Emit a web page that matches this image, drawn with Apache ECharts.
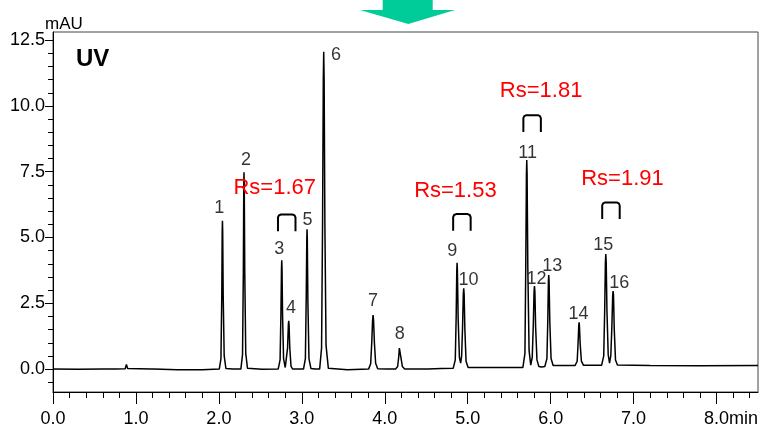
<!DOCTYPE html>
<html><head><meta charset="utf-8">
<script src="https://cdn.jsdelivr.net/npm/echarts@6/dist/echarts.min.js"></script>
<style>html,body{margin:0;padding:0;background:#fff}#c{width:767px;height:425px}</style>
</head><body><div id="c"></div>
<script>
// ---- data ----
const traceTime = [
0.00,0.30,0.60,0.72,0.74,0.76,0.87,0.885,0.90,0.92,1.18,1.195,1.21,1.50,1.80,
2.005,2.025,2.035,2.040,2.043,2.046,2.052,2.064,2.085,
2.17,
2.265,2.285,2.295,2.300,2.303,2.306,2.312,2.324,2.345,
2.52,
2.715,2.738,2.748,2.755,2.758,2.761,2.768,2.780,2.800,2.815,2.828,2.838,2.842,2.846,2.855,2.870,2.890,
2.95,
3.020,3.043,3.053,3.060,3.063,3.066,3.073,3.086,3.110,
3.16,
3.215,3.238,3.250,3.259,3.264,3.269,3.278,3.292,3.320,
3.55,
3.805,3.830,3.843,3.853,3.859,3.865,3.875,3.890,3.915,
4.02,
4.130,4.155,4.168,4.176,4.181,4.186,4.196,4.212,4.240,
4.36,4.49,4.50,4.52,4.68,
4.825,4.850,4.861,4.868,4.872,4.876,4.885,4.900,4.915,4.927,4.938,4.947,4.952,4.957,4.966,4.980,5.005,
5.20,5.45,
5.665,5.690,5.700,5.708,5.712,5.716,5.725,5.740,5.760,5.778,5.791,5.800,5.805,5.810,5.819,5.835,5.858,
5.89,
5.930,5.955,5.966,5.973,5.977,5.981,5.990,6.005,6.030,
6.15,
6.295,6.320,6.331,6.339,6.343,6.347,6.356,6.371,6.395,
6.50,
6.615,6.640,6.652,6.660,6.665,6.670,6.679,6.694,6.710,6.725,6.738,6.748,6.753,6.758,6.767,6.782,6.805,
7.20,7.80,8.50
];
const traceMAU = [
0.00,-0.01,0.00,0.00,0.05,0.00,0.01,0.18,0.02,0.00,0.00,0.07,0.00,-0.02,-0.02,
0.00,0.40,2.80,5.20,5.64,5.20,2.80,0.50,0.02,
0.00,
0.00,0.55,3.70,6.90,7.48,6.90,3.70,0.60,0.03,
-0.01,
0.00,0.35,2.10,3.85,4.14,3.85,2.00,0.40,0.06,0.10,0.80,1.70,1.83,1.70,0.80,0.10,0.00,
0.00,
0.00,0.40,2.70,4.95,5.31,4.95,2.60,0.40,0.02,
0.00,
0.00,0.80,5.50,11.00,12.06,11.00,5.50,0.90,0.03,
-0.02,
0.00,0.20,1.00,1.85,2.05,1.85,1.00,0.22,0.01,
0.00,
0.00,0.10,0.45,0.80,0.87,0.80,0.42,0.10,0.00,
0.00,0.00,0.06,0.00,0.02,
0.03,0.35,2.00,3.70,4.04,3.70,1.90,0.45,0.23,0.50,1.60,2.85,3.07,2.85,1.50,0.30,0.06,
0.06,0.06,
0.06,0.60,3.90,7.40,7.95,7.40,3.80,0.70,0.15,0.45,1.70,2.95,3.16,2.95,1.60,0.35,0.10,
0.08,
0.10,0.40,1.90,3.35,3.57,3.35,1.80,0.40,0.14,
0.14,
0.14,0.30,1.00,1.65,1.78,1.65,0.95,0.30,0.15,
0.15,
0.15,0.50,2.30,4.05,4.37,4.05,2.20,0.55,0.23,0.50,1.60,2.80,2.97,2.80,1.50,0.35,0.16,
0.14,0.13,0.14
];
const peakNames = ['1','2','3','4','5','6','7','8','9','10','11','12','13','14','15','16'];
const peakTime  = [2.043,2.303,2.758,2.842,3.063,3.264,3.859,4.181,4.872,4.952,5.712,5.805,5.977,6.343,6.665,6.753];
const peakMAU   = [5.64,7.48,4.14,1.83,5.31,12.06,2.05,0.87,4.04,3.07,7.95,3.16,3.57,1.78,4.37,2.97];
const rsPairs   = [[2,3],[8,9],[10,11],[14,15]];   // peaks 3/4, 9/10, 11/12, 15/16
const rsValues  = ['1.67','1.53','1.81','1.91'];
const xTickLabels = [0,1,2,3,4,5,6,7,8];
const yTickLabels = [0,2.5,5,7.5,10,12.5];
const yMinorTicks = [-0.5,0.5,1,1.5,2,3,3.5,4,4.5,5.5,6,6.5,7,8,8.5,9,9.5,10.5,11,11.5,12];

// ---- styling (pixel nudges for annotations) ----
const FONT = '"Liberation Sans", Arial, sans-serif';
const labelNudge = [[-2.7,-11.7],[2.4,-11.5],[-2,-10.3],[2.7,-12],[1,-8.7],[12.7,3.3],[0.5,-13.7],[0.5,-11.7],
                    [-4.3,-11.4],[5.3,-7.6],[1.3,-6],[2.6,-6.7],[4,-8.3],[0,-8],[-2,-9],[6.7,-7.3]];
const bracketLift = [29,32,28,35];
const rsTextDx = [-12,-6.5,9,11.5];
const rsTextDy = [-26.5,-23.5,-24.4,-23.7];

const chart = echarts.init(document.getElementById('c'), null, {renderer:'canvas'});

const lineData = traceTime.map((t,i)=>[t, traceMAU[i]]);
const peakData = peakTime.map((t,i)=>({name:peakNames[i], value:[t, peakMAU[i]],
  label:{offset:[labelNudge[i][0], labelNudge[i][1]]}}));
const rsData = rsPairs.map((p,i)=>[(peakTime[p[0]]+peakTime[p[1]])/2, Math.max(peakMAU[p[0]], peakMAU[p[1]]), i]);

chart.setOption({
  animation:false,
  grid:{left:53, right:9, top:32, bottom:33, show:true, borderColor:'#444', borderWidth:1,
        backgroundColor:'transparent', containLabel:false, outerBoundsMode:'none'},
  xAxis:{
    type:'value', min:0, max:8.5, interval:1,
    axisLine:{show:true, onZero:false, lineStyle:{color:'#000', width:1}},
    axisTick:{show:true, length:12, customValues:xTickLabels, lineStyle:{color:'#000'}},
    minorTick:{show:true, splitNumber:5, length:6, lineStyle:{color:'#000'}},
    axisLabel:{customValues:xTickLabels, margin:18, fontSize:18, color:'#000', fontFamily:FONT,
      formatter:v=> v===8 ? '{pad| }8.0min' : v.toFixed(1),
      rich:{pad:{width:29}}},
    splitLine:{show:false}
  },
  yAxis:[{
    type:'value', min:-0.87, max:12.81,
    axisLine:{show:true, onZero:false, lineStyle:{color:'#000', width:1}},
    axisTick:{show:true, length:8, customValues:yTickLabels, lineStyle:{color:'#000'}},
    axisLabel:{customValues:yTickLabels, margin:8, fontSize:18, color:'#000', fontFamily:FONT, formatter:v=>v.toFixed(1)},
    splitLine:{show:false}
  },{
    type:'value', min:-0.87, max:12.81, position:'left', offset:0,
    axisLine:{show:false},
    axisTick:{show:true, length:5, customValues:yMinorTicks, lineStyle:{color:'#000'}},
    axisLabel:{show:false, customValues:yMinorTicks},
    splitLine:{show:false}
  }],
  graphic:[
    {type:'polygon', shape:{points:[[382.7,0],[432.7,0],[432.7,10],[455,10],[408.3,24],[360,10],[382.7,10]]}, style:{fill:'#00CC99'}},
    {type:'text', left:45, top:16, style:{text:'mAU', font:'17px '+FONT, fill:'#000'}},
    {type:'text', left:76, top:47, style:{text:'UV', font:'bold 24px '+FONT, fill:'#000'}}
  ],
  series:[
    {type:'line', data:lineData, showSymbol:false, symbol:'none', silent:true,
     lineStyle:{color:'#000', width:1.5}, z:2},
    {type:'scatter', data:peakData, symbolSize:1, itemStyle:{color:'rgba(0,0,0,0)'}, silent:true, z:3,
     label:{show:true, position:[0,0], align:'center', verticalAlign:'middle',
       formatter:p=>p.name, fontSize:18, color:'#000', fontFamily:FONT, textBorderWidth:0}},
    {type:'custom', data:rsData, silent:true, z:4, clip:false,
     renderItem:(params, api)=>{
       const i = api.value(2);
       const p = api.coord([api.value(0), api.value(1)]);
       const cx = p[0] + 1.5;
       const yb = p[1] - bracketLift[i];
       const yt = yb - 16.7;
       const x0 = cx - 8.75, x1 = cx + 8.75;
       return {type:'group', children:[
         {type:'polyline', shape:{points:[[x0,yb],[x0,yt+3],[x0+0.9,yt+0.9],[x0+3,yt],[x1-3,yt],[x1-0.9,yt+0.9],[x1,yt+3],[x1,yb]]},
          style:{stroke:'#000', lineWidth:2, fill:null, lineJoin:'round'}},
         {type:'text', style:{text:'Rs='+rsValues[i], x:cx+rsTextDx[i], y:yt+rsTextDy[i],
          align:'center', verticalAlign:'middle', textAlign:'center', textVerticalAlign:'middle',
          font:'22px '+FONT, fill:'#ff0000'}}
       ]};
     }}
  ]
});
</script></body></html>
